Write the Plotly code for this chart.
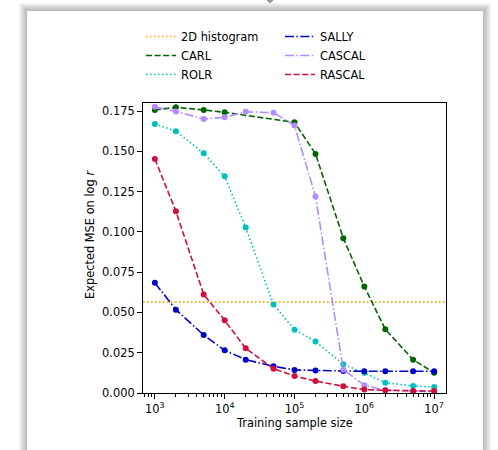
import plotly.graph_objects as go

# Training sample sizes
sizes = [1e3, 2e3, 5e3, 1e4, 2e4, 5e4, 1e5, 2e5, 5e5, 1e6, 2e6, 5e6, 1e7]
carl_sizes = [1e3, 2e3, 5e3, 1e4, 1e5, 2e5, 5e5, 1e6, 2e6, 5e6, 1e7]

# Expected MSE on log r for each method
hist_mse = 0.0564
carl_mse = [0.1757, 0.1773, 0.1757, 0.1742, 0.1680, 0.1484, 0.0961, 0.0661, 0.0395, 0.0207, 0.0126]
rolr_mse = [0.1670, 0.1625, 0.1488, 0.1345, 0.1027, 0.0550, 0.0393, 0.0320, 0.0178, 0.0125, 0.0064, 0.0044, 0.0037]
sally_mse = [0.0684, 0.0517, 0.0360, 0.0265, 0.0207, 0.0166, 0.0143, 0.0139, 0.0137, 0.0135, 0.0135, 0.0135, 0.0135]
cascal_mse = [0.1777, 0.1748, 0.1701, 0.1711, 0.1746, 0.1740, 0.1660, 0.1220, 0.0145, 0.0048, 0.0017, 0.0010, 0.0008]
rascal_mse = [0.1453, 0.1128, 0.0612, 0.0451, 0.0277, 0.0151, 0.0105, 0.0074, 0.0042, 0.0021, 0.0017, 0.0013, 0.0012]

x_ticks = [1e3, 1e4, 1e5, 1e6, 1e7]
x_ticktext = ["10<sup>3</sup>", "10<sup>4</sup>", "10<sup>5</sup>", "10<sup>6</sup>", "10<sup>7</sup>"]
y_ticks = [0.0, 0.025, 0.05, 0.075, 0.1, 0.125, 0.15, 0.175]

W, H = 498, 450
ML, MR, MT, MB = 143, 52, 103, 57
PW, PH = W - ML - MR, H - MT - MB
FONT = "DejaVu Sans"
FS = 11.4


def px_x(px):
    return (px - ML) / PW


def px_y(py):
    return (H - MB - py) / PH


DASHED = "6px,2.6px"
DOTTED = "1.5px,2.5px"
DASHDOT = "9px,2.4px,1.5px,2.4px"

series = [
    ("CARL", carl_sizes, carl_mse, "#006400", DASHED, "legend", 2),
    ("ROLR", sizes, rolr_mse, "#00bfbf", DOTTED, "legend", 3),
    ("SALLY", sizes, sally_mse, "#0000cd", DASHDOT, "legend2", 1),
    ("CASCAL", sizes, cascal_mse, "#b38cff", DASHDOT, "legend2", 2),
    ("RASCAL", sizes, rascal_mse, "#d0103a", DASHED, "legend2", 3),
]

fig = go.Figure()
for name, xs, ys, color, dash, leg, rank in series:
    # line carries the legend entry (line-only symbol)
    fig.add_trace(go.Scatter(
        x=xs, y=ys, name=name, mode="lines",
        line=dict(color=color, width=1.6, dash=dash),
        legend=leg, legendrank=rank, legendgroup=name,
    ))
    # markers at each sample size
    fig.add_trace(go.Scatter(
        x=xs, y=ys, name=name, mode="markers",
        marker=dict(color=color, size=6, line=dict(width=0)),
        showlegend=False, legendgroup=name,
    ))

# Card background with soft shadow
shapes = []
card = (27, 11, 483, 460)
for d in range(8, 0, -1):
    shapes.append(dict(
        type="rect", xref="paper", yref="paper", layer="below",
        x0=px_x(card[0] - d), x1=px_x(card[2] + d),
        y0=px_y(card[3] + d), y1=px_y(card[1] - d),
        fillcolor="rgba(110,110,110,0.065)", line=dict(width=0),
    ))
shapes.append(dict(
    type="rect", xref="paper", yref="paper", layer="below",
    x0=px_x(card[0]), x1=px_x(card[2]), y0=px_y(card[3]), y1=px_y(card[1]),
    fillcolor="white", line=dict(width=0),
))
# small pointer above the card
shapes.append(dict(
    type="path", xref="paper", yref="paper", layer="below",
    path=f"M {px_x(265)},{px_y(-1)} L {px_x(275)},{px_y(-1)} L {px_x(270)},{px_y(3.5)} Z",
    fillcolor="#9a9a9a", line=dict(width=0),
))
# 2D histogram baseline across the full axis
shapes.append(dict(
    type="line", xref="x domain", yref="y", layer="below",
    x0=0, x1=1, y0=hist_mse, y1=hist_mse,
    line=dict(color="#ffa500", width=1.6, dash=DOTTED),
    showlegend=True, name="2D histogram", legend="legend", legendrank=1,
))

legend_common = dict(
    bgcolor="rgba(0,0,0,0)", borderwidth=0, xanchor="left", yanchor="top",
    font=dict(family=FONT, size=FS, color="black"), tracegroupgap=0,
    itemclick=False, itemdoubleclick=False,
)

fig.update_layout(
    width=W, height=H,
    margin=dict(l=ML, r=MR, t=MT, b=MB, pad=0),
    paper_bgcolor="white", plot_bgcolor="white",
    font=dict(family=FONT, size=FS, color="black"),
    shapes=shapes,
    legend=dict(x=px_x(141), y=px_y(22), **legend_common),
    legend2=dict(x=px_x(280), y=px_y(22), **legend_common),
    annotations=[
        dict(text="Expected MSE on log <i>r</i>", xref="paper", yref="paper",
             x=px_x(90), y=px_y(235), textangle=-90, showarrow=False,
             xanchor="center", yanchor="middle",
             font=dict(family=FONT, size=FS, color="black")),
        dict(text="Training sample size", xref="paper", yref="paper",
             x=0.5, y=px_y(423), showarrow=False,
             xanchor="center", yanchor="middle",
             font=dict(family=FONT, size=FS, color="black")),
    ],
)

minor_x = [k * 10 ** d for d in range(2, 8) for k in range(2, 10)
           if 10 ** 2.83 <= k * 10 ** d <= 10 ** 7.17]

fig.update_xaxes(
    type="log", range=[2.83, 7.17],
    tickmode="array", tickvals=x_ticks, ticktext=x_ticktext,
    ticks="outside", ticklen=5, tickwidth=1, tickcolor="black",
    showline=True, linecolor="black", linewidth=1, mirror=True,
    showgrid=False, zeroline=False,
    minor=dict(tickmode="array", tickvals=minor_x, ticks="outside",
               ticklen=2.5, tickwidth=0.8, tickcolor="black", showgrid=False),
    tickfont=dict(family=FONT, size=FS, color="black"),
)
fig.update_yaxes(
    range=[0, 0.18],
    tickmode="array", tickvals=y_ticks, tickformat=".3f",
    ticks="outside", ticklen=5, tickwidth=1, tickcolor="black",
    showline=True, linecolor="black", linewidth=1, mirror=True,
    showgrid=False, zeroline=False,
    tickfont=dict(family=FONT, size=FS, color="black"),
)

fig.write_html("out.html")
